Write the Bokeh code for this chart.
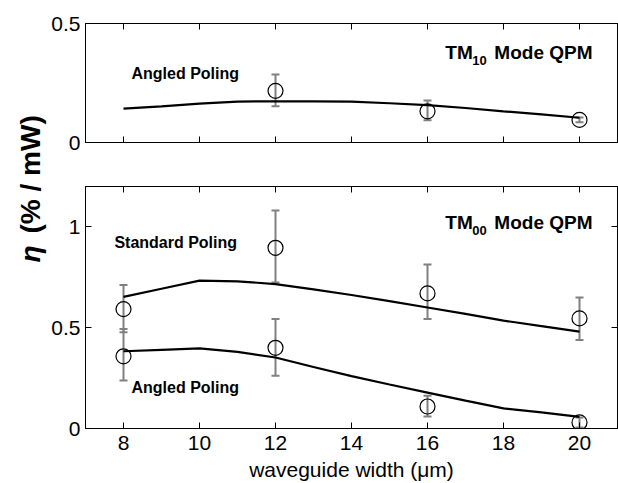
import numpy as np
from bokeh.plotting import figure
from bokeh.models import (Range1d, LinearAxis, FixedTicker, Whisker, TeeHead,
                          ColumnDataSource, Label)
from bokeh.layouts import row, column
from bokeh.embed import file_html
from bokeh.resources import INLINE

# ---------------- data ----------------
x_ticks = [8, 10, 12, 14, 16, 18, 20]
fit_x = [8, 9, 10, 11, 12, 13, 14, 15, 16, 17, 18, 19, 20]

# TM10 mode QPM, angled poling (top panel)
tm10_x = [12, 16, 20]
tm10_eta = [0.217, 0.131, 0.095]
tm10_lo = [0.152, 0.093, 0.085]
tm10_hi = [0.286, 0.176, 0.105]
tm10_fit = [0.142, 0.152, 0.163, 0.172, 0.173, 0.173, 0.172, 0.165, 0.157,
            0.145, 0.131, 0.118, 0.104]

# TM00 mode QPM, standard poling (bottom panel)
std_x = [8, 12, 16, 20]
std_eta = [0.592, 0.896, 0.670, 0.546]
std_lo = [0.477, 0.724, 0.543, 0.439]
std_hi = [0.711, 1.081, 0.813, 0.650]
std_fit = [0.653, 0.693, 0.733, 0.730, 0.716, 0.690, 0.662, 0.632, 0.600,
           0.568, 0.535, 0.508, 0.480]

# TM00 mode QPM, angled poling (bottom panel)
ang_x = [8, 12, 16, 20]
ang_eta = [0.358, 0.400, 0.109, 0.030]
ang_lo = [0.238, 0.262, 0.059, 0.005]
ang_hi = [0.494, 0.543, 0.163, 0.055]
ang_fit = [0.383, 0.390, 0.397, 0.380, 0.352, 0.305, 0.260, 0.218, 0.178,
           0.138, 0.100, 0.080, 0.058]

top_yticks = [0, 0.5]
bot_yticks = [0, 0.5, 1]

FONT = "Liberation Sans"
ERR = "#808080"
TICK_FS = "21px"
LAB_W = 48


def style_axis(ax, ticks, show_labels):
    ax.ticker = FixedTicker(ticks=ticks)
    ax.axis_line_color = "black"
    ax.axis_line_width = 1
    ax.major_tick_in = 6
    ax.major_tick_out = 0
    ax.major_tick_line_color = "black"
    ax.minor_tick_line_color = None
    ax.major_label_text_font = FONT
    ax.major_label_text_color = "black"
    if show_labels:
        ax.major_label_text_font_size = TICK_FS
    else:
        ax.major_label_text_font_size = "1px"
        ax.major_label_text_color = None
        ax.major_label_standoff = 0


def frame_axes(p, yticks, show_x_labels):
    p.grid.visible = False
    p.outline_line_color = "black"
    p.outline_line_width = 1
    p.background_fill_color = "white"
    p.border_fill_color = "white"
    bottom_ax = p.below[0]
    left_ax = p.left[0]
    top_ax = LinearAxis()
    right_ax = LinearAxis()
    p.add_layout(top_ax, "above")
    p.add_layout(right_ax, "right")
    style_axis(bottom_ax, x_ticks, show_x_labels)
    style_axis(top_ax, x_ticks, False)
    style_axis(left_ax, yticks, True)
    style_axis(right_ax, yticks, False)
    left_ax.major_label_standoff = 5
    bottom_ax.major_label_standoff = 7
    return bottom_ax


def add_series(p, xs, ys, lo, hi, fx, fy):
    src = ColumnDataSource(dict(x=xs, y=ys, lo=lo, hi=hi))
    w = Whisker(base="x", upper="hi", lower="lo", source=src,
                line_color=ERR, line_width=2,
                upper_head=TeeHead(size=8, line_color=ERR, line_width=2),
                lower_head=TeeHead(size=8, line_color=ERR, line_width=2))
    p.add_layout(w)
    p.line(fx, fy, line_color="black", line_width=2.2)
    p.scatter("x", "y", source=src, marker="circle", size=15,
              fill_color=None, line_color="black", line_width=1.2)


def tm_label(p, x, y, sub):
    p.add_layout(Label(x=x, y=y, text="TM", text_font=FONT, text_font_style="bold",
                       text_font_size="19px", text_baseline="middle", text_color="black"))
    p.add_layout(Label(x=x, y=y, x_offset=27, y_offset=-8, text=sub, text_font=FONT,
                       text_font_style="bold", text_font_size="13px",
                       text_baseline="middle", text_color="black"))
    p.add_layout(Label(x=x, y=y, x_offset=49, text="Mode QPM", text_font=FONT,
                       text_font_style="bold", text_font_size="19px",
                       text_baseline="middle", text_color="black"))


def txt(p, x, y, s):
    p.add_layout(Label(x=x, y=y, text=s, text_font=FONT, text_font_style="bold",
                       text_font_size="16px", text_baseline="middle", text_color="black"))


PW = 618 - LAB_W
MBL = 85 - LAB_W

# ---------------- top panel ----------------
top = figure(width=PW, height=164, x_range=Range1d(7, 21), y_range=Range1d(0, 0.5),
             output_backend="svg", toolbar_location=None,
             min_border_left=MBL, min_border_right=1, min_border_top=23, min_border_bottom=22)
frame_axes(top, top_yticks, False)
add_series(top, tm10_x, tm10_eta, tm10_lo, tm10_hi, fit_x, tm10_fit)
txt(top, 8.21, 0.29, "Angled Poling")
tm_label(top, 16.47, 0.38, "10")

# ---------------- bottom panel ----------------
bot = figure(width=PW, height=319, x_range=Range1d(7, 21), y_range=Range1d(0, 1.2),
             output_backend="svg", toolbar_location=None,
             min_border_left=MBL, min_border_right=1, min_border_top=22, min_border_bottom=55)
xax = frame_axes(bot, bot_yticks, True)
xax.axis_label = "waveguide width (\u03bcm)"
xax.axis_label_text_font = FONT
xax.axis_label_text_font_size = TICK_FS
xax.axis_label_text_font_style = "normal"
xax.axis_label_text_color = "black"
xax.axis_label_standoff = 5
add_series(bot, std_x, std_eta, std_lo, std_hi, fit_x, std_fit)
add_series(bot, ang_x, ang_eta, ang_lo, ang_hi, fit_x, ang_fit)
txt(bot, 7.76, 0.921, "Standard Poling")
txt(bot, 8.21, 0.203, "Angled Poling")
tm_label(bot, 16.47, 1.02, "00")

# ---------------- y label column ----------------
lab = figure(width=LAB_W, height=483, x_range=Range1d(0, LAB_W), y_range=Range1d(0, 483),
             output_backend="svg", toolbar_location=None, x_axis_type=None,
             y_axis_type=None, min_border=0, min_border_left=0, min_border_right=0,
             min_border_top=0, min_border_bottom=0)
lab.grid.visible = False
lab.outline_line_color = None
lab.add_layout(Label(x=30, y=221, text="\u03b7", angle=np.pi / 2, text_font=FONT,
                     text_font_style="bold italic", text_font_size="28px",
                     text_align="left", text_baseline="middle", text_color="black"))
lab.add_layout(Label(x=30, y=250, text="(% / mW)", angle=np.pi / 2, text_font=FONT,
                     text_font_style="bold", text_font_size="28px",
                     text_align="left", text_baseline="middle", text_color="black"))

layout = row(lab, column(top, bot))
open("out.html", "w").write(file_html(layout, INLINE))
